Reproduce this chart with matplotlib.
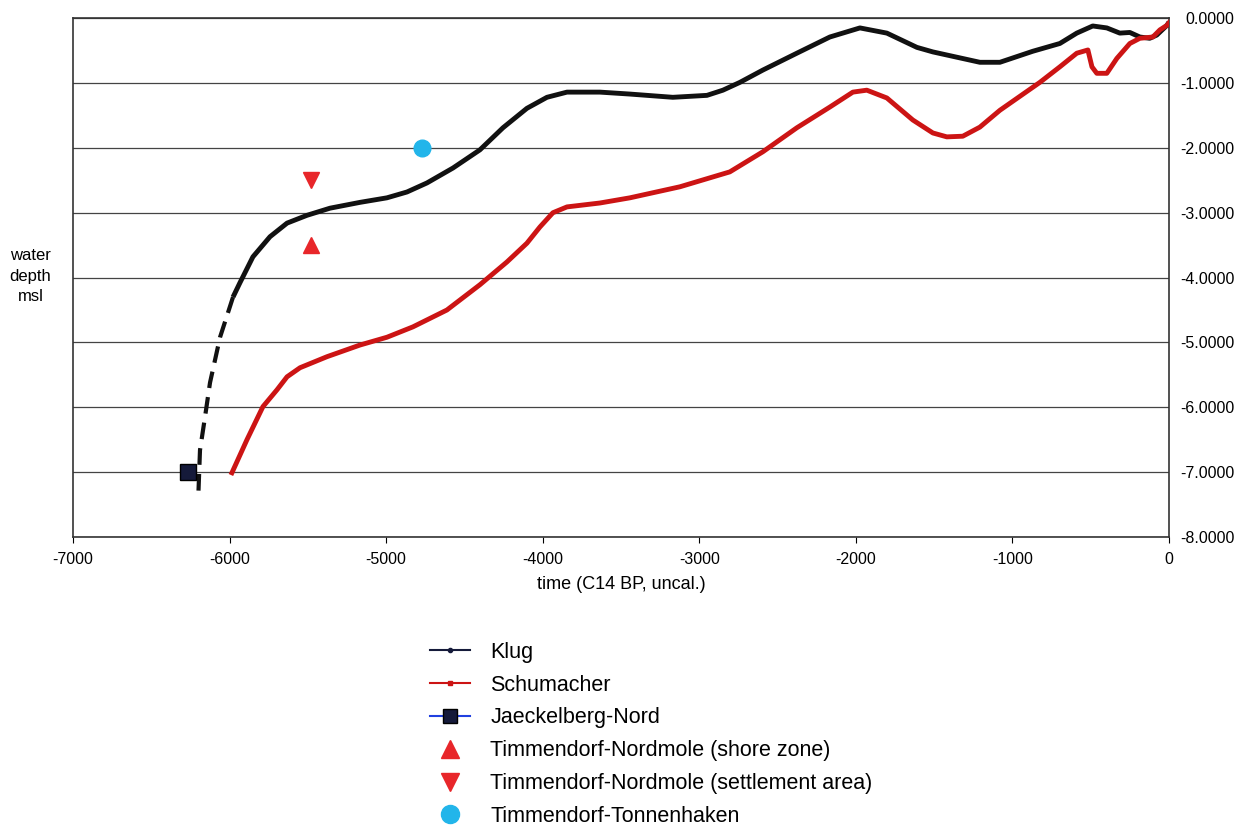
import numpy as np
import matplotlib.pyplot as plt
from matplotlib.lines import Line2D

plt.rcParams['font.family'] = ['Liberation Sans', 'DejaVu Sans']
plt.rcParams['axes.unicode_minus'] = False

# Klug curve (solid part)
klug_x = [-5978, -5934, -5851, -5742, -5633, -5506, -5359, -5167, -4995, -4867, -4739,
          -4573, -4401, -4254, -4101, -3973, -3845, -3635, -3443, -3169, -2951, -2849,
          -2741, -2594, -2377, -2166, -1974, -1802, -1610, -1508, -1208, -1080, -870,
          -697, -589, -487, -397, -314, -250, -186, -123, -78, -13, 0]
klug_y = [-4.30, -4.08, -3.68, -3.37, -3.16, -3.04, -2.93, -2.84, -2.77, -2.68, -2.54,
          -2.31, -2.03, -1.69, -1.39, -1.22, -1.14, -1.14, -1.17, -1.22, -1.19, -1.11,
          -0.99, -0.80, -0.54, -0.29, -0.15, -0.23, -0.45, -0.52, -0.68, -0.68, -0.51,
          -0.39, -0.23, -0.12, -0.15, -0.23, -0.22, -0.29, -0.31, -0.26, -0.11, -0.06]

# Klug curve (dashed extrapolation)
klug_dash_x = [-5978, -6061, -6125, -6157, -6189, -6200]
klug_dash_y = [-4.30, -4.92, -5.62, -6.15, -6.66, -7.38]

# Schumacher curve
schu_x = [-5985, -5889, -5787, -5697, -5633, -5550, -5378, -5167, -4995, -4829, -4612,
          -4401, -4229, -4101, -4018, -3935, -3845, -3635, -3443, -3124, -2805, -2594,
          -2377, -2166, -2019, -1930, -1802, -1636, -1508, -1419, -1317, -1208, -1080,
          -825, -697, -589, -518, -492, -461, -397, -333, -250, -186, -103, -58, -13, 0]
schu_y = [-7.01, -6.50, -5.99, -5.73, -5.53, -5.39, -5.22, -5.04, -4.92, -4.76, -4.50,
          -4.11, -3.76, -3.47, -3.22, -3.00, -2.91, -2.85, -2.77, -2.60, -2.37, -2.06,
          -1.69, -1.37, -1.14, -1.11, -1.23, -1.57, -1.77, -1.83, -1.82, -1.68, -1.42,
          -0.99, -0.75, -0.54, -0.49, -0.75, -0.85, -0.85, -0.62, -0.39, -0.31, -0.29, -0.18, -0.11, -0.07]

# single sites
jaeckelberg = (-6265, -7.0)
shore_zone = (-5480, -3.5)
settlement = (-5480, -2.5)
tonnenhaken = (-4770, -2.0)

fig = plt.figure(figsize=(12.44, 8.27), dpi=100)
ax = fig.add_axes([0.0587, 0.3507, 0.8810, 0.6273])

black = '#111111'
red = '#cc1414'
tri_red = '#e8262a'
cyan = '#22b5ea'
navy = '#151a3a'

ax.plot(klug_x, klug_y, color=black, lw=3.5, solid_joinstyle='round', solid_capstyle='butt', zorder=3)
ax.plot(klug_dash_x, klug_dash_y, color=black, lw=3.0, dashes=(4, 2.2), zorder=3)
ax.plot(schu_x, schu_y, color=red, lw=3.5, solid_joinstyle='round', zorder=3)
ax.plot(*jaeckelberg, marker='s', ms=11, color=navy, mec='#000000', ls='none', zorder=4)
ax.plot(*shore_zone, marker='^', ms=12, color=tri_red, ls='none', zorder=4)
ax.plot(*settlement, marker='v', ms=12, color=tri_red, ls='none', zorder=4)
ax.plot(*tonnenhaken, marker='o', ms=12, color=cyan, ls='none', zorder=4)

ax.set_xlim(-7000, 0)
ax.set_ylim(-8, 0)
ax.set_xticks(np.arange(-7000, 1, 1000))
ax.set_yticks(np.arange(-8, 0.1, 1))
ax.yaxis.tick_right()
ax.yaxis.set_major_formatter(plt.FormatStrFormatter('%.4f'))
ax.tick_params(axis='x', length=4, width=0.8, labelsize=11.5, pad=7)
ax.tick_params(axis='y', length=0, labelsize=11.5, pad=47)
for lab in ax.get_yticklabels():
    lab.set_horizontalalignment('right')
ax.grid(axis='y', color='#444444', lw=0.9)
ax.set_axisbelow(True)
for s in ax.spines.values():
    s.set_color('#333333')
    s.set_linewidth(1.2)

ax.set_xlabel('time (C14 BP, uncal.)', fontsize=13, labelpad=6)
fig.text(0.0245, 0.666, 'water\ndepth\nmsl', ha='center', va='center', fontsize=12, linespacing=1.45)

handles = [
    Line2D([], [], color=navy, lw=1.5, marker='o', ms=3),
    Line2D([], [], color=red, lw=1.5, marker='s', ms=3),
    Line2D([], [], color='#2040e0', lw=1.5, marker='s', ms=10, mfc=navy, mec='#000000'),
    Line2D([], [], color=tri_red, ls='none', marker='^', ms=13),
    Line2D([], [], color=tri_red, ls='none', marker='v', ms=13),
    Line2D([], [], color=cyan, ls='none', marker='o', ms=13),
]
labels = ['Klug', 'Schumacher', 'Jaeckelberg-Nord', 'Timmendorf-Nordmole (shore zone)',
          'Timmendorf-Nordmole (settlement area)', 'Timmendorf-Tonnenhaken']
fig.legend(handles, labels, loc='upper left', bbox_to_anchor=(0.337, 0.237), frameon=False,
           fontsize=15.5, handlelength=1.85, handletextpad=0.95, labelspacing=0.55, borderpad=0)

fig.savefig('out.png', dpi=100)
